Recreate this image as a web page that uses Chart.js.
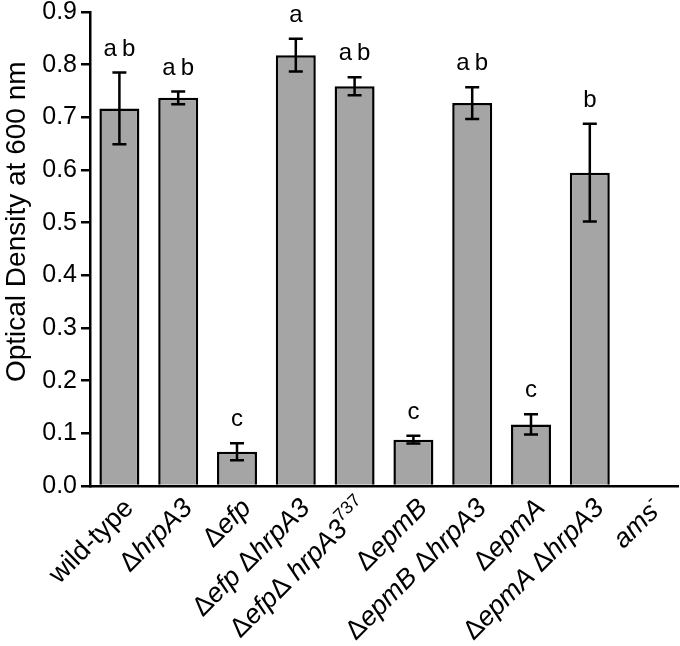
<!DOCTYPE html>
<html>
<head>
<meta charset="utf-8">
<script src="https://cdn.jsdelivr.net/npm/chart.js@4"></script>
<style>
  html, body { margin: 0; padding: 0; background: #fff; }
  #wrap { width: 680px; height: 646px; }
</style>
</head>
<body>
<div id="wrap"><canvas id="ODChart" width="680" height="646"></canvas></div>
<script>
// *...* = italic, ^...^ = superscript
const categories = ['wild-type', 'Δ*hrpA3*', 'Δ*efp*', 'Δ*efp* Δ*hrpA3*', 'Δ*efp*Δ *hrpA3*^737^',
  'Δ*epmB*', 'Δ*epmB* Δ*hrpA3*', 'Δ*epmA*', 'Δ*epmA* Δ*hrpA3*', '*ams*^-^']
const density = [0.717, 0.737, 0.065, 0.818, 0.759, 0.088, 0.727, 0.117, 0.595, 0]
const errors = [0.068, 0.012, 0.016, 0.031, 0.017, 0.0075, 0.030, 0.019, 0.093, 0]
const groups = ['ab', 'ab', 'c', 'a', 'ab', 'c', 'ab', 'c', 'b', '']
const yMin = 0, yMax = 0.9, yStep = 0.1

const FONT = "'Liberation Sans', Arial, sans-serif"

function parseLabel(str){
    return str.split(/(\*[^*]+\*|\^[^^]+\^)/).filter(s => s.length).map(s => {
        if (s[0] == '*') return {text: s.slice(1, -1), italic: true, sup: false}
        if (s[0] == '^') return {text: s.slice(1, -1), italic: false, sup: true}
        return {text: s, italic: false, sup: false}
    })
}
const plainLabels = categories.map(c => parseLabel(c).map(s => s.text).join(''))

function segFont(seg){
    if (seg.sup) return '18px ' + FONT
    return (seg.italic ? 'italic ' : '') + '27px ' + FONT
}

const extras = {
    id: 'extras',
    afterDatasetsDraw(chart){
        const ctx = chart.ctx
        const y = chart.scales.y
        const meta = chart.getDatasetMeta(0)
        ctx.save()
        ctx.strokeStyle = '#000'
        ctx.fillStyle = '#000'
        ctx.lineWidth = 2.5
        meta.data.forEach((bar, i) => {
            const err = errors[i]
            if (!err) return
            const top = y.getPixelForValue(density[i] + err)
            const bot = y.getPixelForValue(density[i] - err)
            ctx.beginPath()
            ctx.moveTo(bar.x, top); ctx.lineTo(bar.x, bot)
            ctx.moveTo(bar.x - 7, top); ctx.lineTo(bar.x + 7, top)
            ctx.moveTo(bar.x - 7, bot); ctx.lineTo(bar.x + 7, bot)
            ctx.stroke()
            // significance letters
            ctx.font = '24px ' + FONT
            ctx.textAlign = 'center'
            ctx.textBaseline = 'alphabetic'
            ctx.letterSpacing = groups[i].length > 1 ? '5px' : '0px'
            const shift = groups[i].length > 1 ? 2.5 : 0
            ctx.fillText(groups[i], bar.x + shift, top - 17)
        })
        ctx.letterSpacing = '0px'
        // rotated category labels with italic / superscript parts
        const xs = chart.scales.x
        meta.data.forEach((bar, i) => {
            const segs = parseLabel(categories[i])
            let total = 0
            segs.forEach(s => { ctx.font = segFont(s); s.w = ctx.measureText(s.text).width; total += s.w })
            ctx.save()
            ctx.translate(bar.x + 10, xs.top + 18)
            ctx.rotate(-Math.PI / 4)
            ctx.textAlign = 'left'
            ctx.textBaseline = 'middle'
            let cx = -total
            segs.forEach(s => {
                ctx.font = segFont(s)
                ctx.fillText(s.text, cx, s.sup ? -9 : 0)
                cx += s.w
            })
            ctx.restore()
        })
        ctx.restore()
    }
}

new Chart('ODChart', {
    type: 'bar',
    data: {
        labels: plainLabels,
        datasets: [{
            data: density,
            backgroundColor: '#a5a5a5',
            borderColor: '#000',
            borderWidth: 2.5,
            barPercentage: 0.68,
            categoryPercentage: 1
        }]
    },
    options: {
        responsive: false,
        animation: false,
        layout: {padding: {top: 12, right: 2, left: 0, bottom: 0}},
        plugins: {legend: {display: false}, tooltip: {enabled: false}},
        scales: {
            x: {
                grid: {display: false},
                border: {display: true, color: '#000', width: 2.5},
                ticks: {display: false},
                afterFit(scale){ scale.height = 160 }
            },
            y: {
                min: yMin,
                max: yMax,
                ticks: {
                    stepSize: yStep,
                    autoSkip: false,
                    color: '#000',
                    padding: 4,
                    font: {family: FONT, size: 25},
                    callback: v => v.toFixed(1)
                },
                grid: {drawOnChartArea: false, drawTicks: true, tickLength: 9, color: '#000', lineWidth: 2.5},
                border: {display: true, color: '#000', width: 2.5},
                title: {
                    display: true,
                    // leading spaces nudge the centred title up the axis, as in the original
                    text: '       Optical Density at 600 nm',
                    color: '#000',
                    font: {family: FONT, size: 28, weight: 'normal'},
                    padding: {top: 0, bottom: 2}
                },
                afterFit(scale){
                    scale.width = 90
                    scale.paddingTop = 0
                    scale.paddingBottom = 0
                }
            }
        }
    },
    plugins: [extras]
})
</script>
</body>
</html>
